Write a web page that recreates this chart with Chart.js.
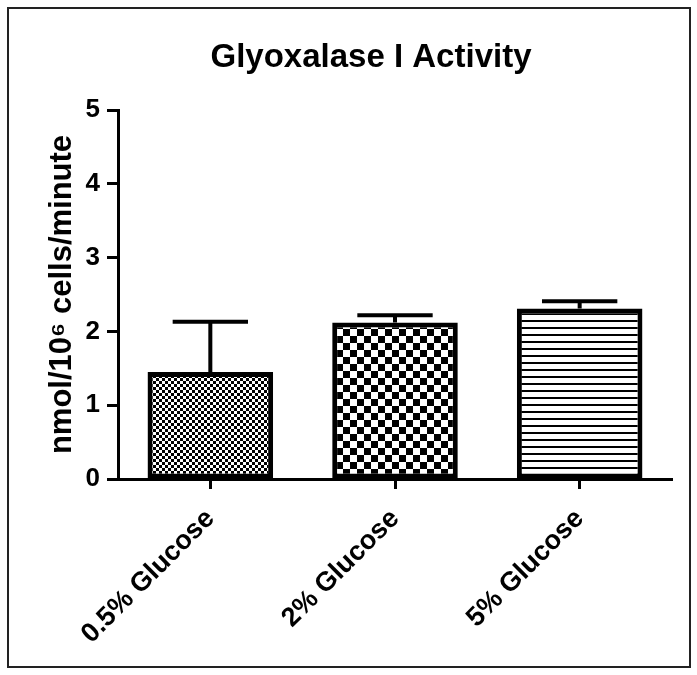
<!DOCTYPE html>
<html>
<head>
<meta charset="utf-8">
<script src="https://cdn.jsdelivr.net/npm/chart.js@4"></script>
<style>
  html, body { margin: 0; padding: 0; background: #fff; }
  #wrap { width: 697px; height: 675px; }
</style>
</head>
<body>
<div id="wrap"><canvas id="myChart" width="697" height="675"></canvas></div>
<script>
const categories = ["0.5% Glucose", "2% Glucose", "5% Glucose"];
const means = [1.45, 2.12, 2.31];
const sem = [0.68, 0.10, 0.10];
const yTicks = [0, 1, 2, 3, 4, 5];

const FONT = "'Liberation Sans', Arial, sans-serif";

function makePattern(kind) {
  const c = document.createElement("canvas");
  const g = c.getContext("2d");
  if (kind === "fine") {
    c.width = 6; c.height = 6;
    g.fillStyle = "#fff"; g.fillRect(0, 0, 6, 6);
    g.fillStyle = "#000";
    g.fillRect(0, 0, 3, 3); g.fillRect(3, 3, 3, 3);
  } else if (kind === "coarse") {
    c.width = 14; c.height = 14;
    g.fillStyle = "#fff"; g.fillRect(0, 0, 14, 14);
    g.fillStyle = "#000";
    g.fillRect(0, 0, 7, 7); g.fillRect(7, 7, 7, 7);
  } else {
    c.width = 8; c.height = 7;
    g.fillStyle = "#fff"; g.fillRect(0, 0, 8, 7);
    g.fillStyle = "#000";
    g.fillRect(0, 5, 8, 2);
  }
  return g.createPattern(c, "repeat");
}

// upward error bars, drawn through the scales
const errorBars = {
  id: "errorBars",
  afterDatasetsDraw(chart) {
    const ctx = chart.ctx;
    const y = chart.scales.y;
    const meta = chart.getDatasetMeta(0);
    ctx.save();
    ctx.strokeStyle = "#000";
    ctx.lineWidth = 4;
    meta.data.forEach((bar, i) => {
      const top = y.getPixelForValue(means[i] + sem[i]);
      const half = bar.width * 0.3;
      ctx.beginPath();
      ctx.moveTo(bar.x, bar.y);
      ctx.lineTo(bar.x, top);
      ctx.moveTo(bar.x - half, top);
      ctx.lineTo(bar.x + half, top);
      ctx.stroke();
    });
    ctx.restore();
  }
};

const frameAndTitle = {
  id: "frameAndTitle",
  beforeDraw(chart) {
    const ctx = chart.ctx;
    ctx.save();
    ctx.fillStyle = "#fff";
    ctx.fillRect(0, 0, chart.width, chart.height);
    ctx.strokeStyle = "#222";
    ctx.lineWidth = 2;
    ctx.strokeRect(8, 8, 682, 659);
    ctx.restore();
  },
  afterDraw(chart) {
    const ctx = chart.ctx;
    ctx.save();
    ctx.fillStyle = "#000";
    ctx.font = "bold 33px " + FONT;
    ctx.textAlign = "center";
    ctx.textBaseline = "alphabetic";
    ctx.fillText("Glyoxalase I Activity", 371, 67);
    ctx.restore();
  }
};

const ctx = document.getElementById("myChart").getContext("2d");
new Chart(ctx, {
  type: "bar",
  data: {
    labels: categories,
    datasets: [{
      data: means,
      backgroundColor: [makePattern("fine"), makePattern("coarse"), makePattern("lines")],
      borderColor: "#000",
      borderWidth: 5,
      borderSkipped: false,
      barPercentage: 0.68,
      categoryPercentage: 1.0
    }]
  },
  options: {
    responsive: false,
    animation: false,
    layout: { padding: { left: 8, right: 25, top: 110, bottom: 0 } },
    plugins: {
      legend: { display: false },
      title: { display: false },
      tooltip: { enabled: false }
    },
    scales: {
      x: {
        offset: true,
        afterFit(scale) { scale.height = 196; },
        grid: {
          offset: false,
          drawOnChartArea: false,
          drawTicks: true,
          tickLength: 10,
          tickWidth: 3,
          color: "#000"
        },
        border: { display: true, color: "#000", width: 3 },
        ticks: {
          autoSkip: false,
          minRotation: 45,
          maxRotation: 45,
          padding: 14,
          color: "#000",
          font: { family: FONT, size: 27, weight: "bold" }
        }
      },
      y: {
        min: 0,
        max: 5,
        afterFit(scale) { scale.width = 110; },
        afterBuildTicks(scale) { scale.ticks = yTicks.map(v => ({ value: v })); },
        grid: {
          drawOnChartArea: false,
          drawTicks: true,
          tickLength: 11,
          tickWidth: 3,
          color: "#000"
        },
        border: { display: true, color: "#000", width: 3 },
        ticks: {
          padding: 7,
          color: "#000",
          font: { family: FONT, size: 26, weight: "bold" }
        },
        title: {
          display: true,
          text: "nmol/10\u2076 cells/minute",
          color: "#000",
          padding: { top: 36, bottom: 0 },
          font: { family: FONT, size: 31, weight: "bold" }
        }
      }
    }
  },
  plugins: [frameAndTitle, errorBars]
});
</script>
</body>
</html>
